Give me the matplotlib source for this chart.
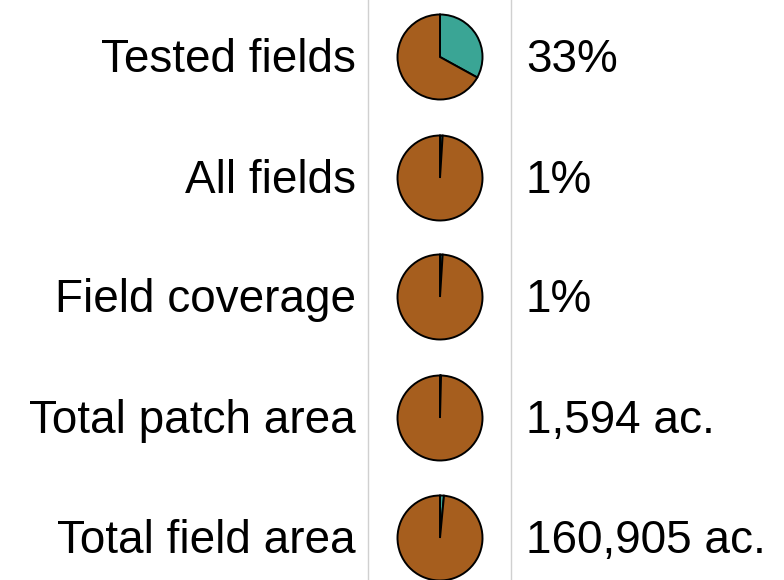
import matplotlib.pyplot as plt

labels = ["Tested fields", "All fields", "Field coverage", "Total patch area", "Total field area"]
shares = [33, 1, 1, 0.4, 1.5]
values = ["33%", "1%", "1%", "1,594 ac.", "160,905 ac."]

teal = "#3aa595"
brown = "#a65e1e"

plt.rcParams['font.family'] = ['Liberation Sans', 'DejaVu Sans']

fig = plt.figure(figsize=(7.84, 5.8), dpi=100)
ax = fig.add_axes([0, 0, 1, 1])

ax.axvline(368, color='#d0d0d0', lw=1)
ax.axvline(511, color='#d0d0d0', lw=1)

# y axis is flipped below, so start at 270 and go counterclockwise in data
# to get a slice starting at 12 o'clock and running clockwise on screen
row_y = [57, 178, 297, 418, 538]
for lab, s, v, y in zip(labels, shares, values, row_y):
    ax.pie([s, 100 - s], colors=[teal, brown], startangle=270, counterclock=True,
           center=(440, y), radius=42.5, frame=True,
           wedgeprops=dict(edgecolor='black', linewidth=1.4))
    ax.text(356, y + 3, lab, ha='right', va='center', fontsize=33)
    ax.text(526, y + 3, v, ha='left', va='center', fontsize=33)

ax.set_xlim(0, 784)
ax.set_ylim(580, 0)
ax.set_aspect('equal')
ax.axis('off')
fig.savefig("out.png", dpi=100)
